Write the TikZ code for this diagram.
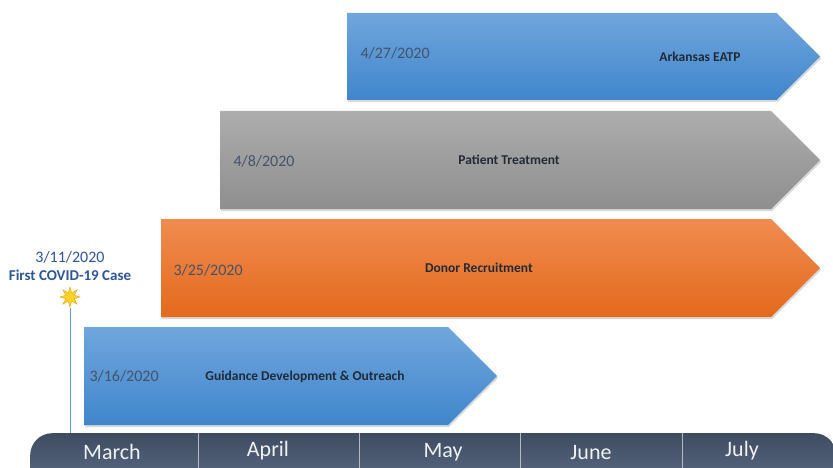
\documentclass[tikz,border=0pt]{standalone}
\usepackage{fontspec}
\setmainfont{Carlito}
\usetikzlibrary{shapes.symbols,shapes.geometric,shadows}
\definecolor{slate}{HTML}{44546A}
\definecolor{taskink}{HTML}{222A35}
\definecolor{covidblue}{HTML}{2F5597}
\definecolor{bluetop}{RGB}{112,166,220}
\definecolor{bluebot}{RGB}{64,134,204}
\definecolor{graytop}{RGB}{173,173,173}
\definecolor{graybot}{RGB}{142,142,142}
\definecolor{orangetop}{RGB}{240,139,80}
\definecolor{orangebot}{RGB}{228,106,28}
\definecolor{bartop}{RGB}{62,76,98}
\definecolor{barbot}{RGB}{96,112,134}
\definecolor{sparkfill}{RGB}{255,210,40}
\definecolor{sparkedge}{RGB}{232,160,20}
\definecolor{stemblue}{RGB}{91,155,213}

\begin{document}
\begin{tikzpicture}[x=1pt,y=-1pt,
  phase/.style={signal,signal to=east,signal pointer angle=90,inner sep=0pt,anchor=west,
    drop shadow={opacity=0.3,shadow xshift=1pt,shadow yshift=-2pt}},
  date/.style={anchor=west,text=slate,font=\fontsize{16}{19}\selectfont},
  task/.style={text=taskink,font=\bfseries\fontsize{13.5}{16}\selectfont},
  month/.style={text=white!92!slate,font=\fontsize{22}{26}\selectfont}]
\clip (0,0) rectangle (833,468);
\node[phase,minimum width=473pt,minimum height=87pt,top color=bluetop,bottom color=bluebot] (eatp) at (347,56.5) {};
\node[phase,minimum width=600pt,minimum height=98pt,top color=graytop,bottom color=graybot] (treat) at (220,160) {};
\node[phase,minimum width=659pt,minimum height=98pt,top color=orangetop,bottom color=orangebot] (donor) at (161,268) {};
\node[phase,minimum width=413pt,minimum height=98pt,top color=bluetop,bottom color=bluebot] (guide) at (84,376) {};
\node[date] at (357,53) {4/27/2020};
\node[date] at (230,161) {4/8/2020};
\node[date] at (170,270) {3/25/2020};
\node[date] at (86,376) {3/16/2020};
\node[task] at (700,57) {Arkansas EATP};
\node[task] at (509,160) {Patient Treatment};
\node[task] at (479,268) {Donor Recruitment};
\node[task] at (305,377) {Guidance Development \& Outreach};
\node[anchor=north west,rounded corners=22pt,minimum width=806pt,minimum height=60pt,inner sep=0pt,
  top color=bartop,bottom color=barbot] (timeline) at (30,433) {};
\foreach \x in {198,359,520,682}
  \draw[white!60!slate,line width=0.6pt] (\x,433) -- (\x,468);
\node[month] (mar) at (112,452) {March};
\node[month] (apr) at (268,451) {April};
\node[month] (may) at (443,452) {May};
\node[month] (jun) at (591,453) {June};
\node[month] (jul) at (742,451) {July};
\node[text=covidblue,font=\fontsize{16}{19}\selectfont] (covdate) at (70,257) {3/11/2020};
\node[text=covidblue,font=\bfseries\fontsize{15}{18}\selectfont] (covcase) at (70,275) {First COVID-19 Case};
\node[star,star points=8,star point ratio=2.2,minimum size=20pt,inner sep=0pt,
  fill=sparkfill,draw=sparkedge,line width=0.4pt] (spark) at (70,297) {};
\draw[stemblue,line width=1pt] (spark.south) -- (spark |- timeline.north);
\end{tikzpicture}
\end{document}
